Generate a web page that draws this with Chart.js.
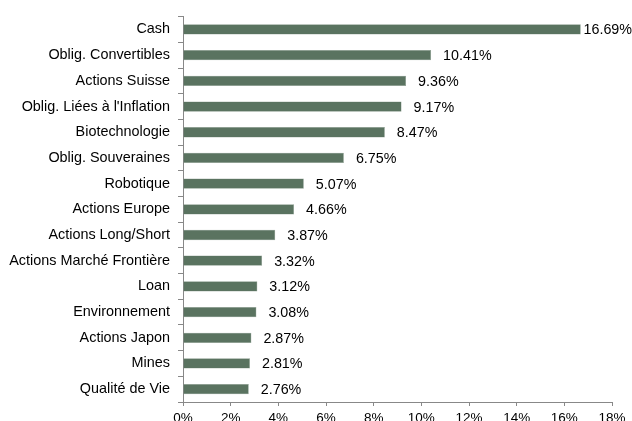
<!DOCTYPE html>
<html>
<head>
<meta charset="utf-8">
<script src="https://cdn.jsdelivr.net/npm/chart.js@4"></script>
<style>
  html, body { margin: 0; padding: 0; background: #fff; }
  canvas { display: block; }
</style>
</head>
<body>
<canvas id="chart" width="632" height="421"></canvas>
<script>
const categories = [
  "Cash", "Oblig. Convertibles", "Actions Suisse", "Oblig. Liées à l'Inflation",
  "Biotechnologie", "Oblig. Souveraines", "Robotique", "Actions Europe",
  "Actions Long/Short", "Actions Marché Frontière", "Loan", "Environnement",
  "Actions Japon", "Mines", "Qualité de Vie"
]
const weights = [16.69, 10.41, 9.36, 9.17, 8.47, 6.75, 5.07, 4.66, 3.87, 3.32, 3.12, 3.08, 2.87, 2.81, 2.76]
const xTicks = [0, 2, 4, 6, 8, 10, 12, 14, 16, 18]

const FONT = "'Liberation Sans', Arial, sans-serif"

// value labels to the right of each bar
const valueLabels = {
  id: "valueLabels",
  afterDatasetsDraw(chart) {
    const ctx = chart.ctx
    const meta = chart.getDatasetMeta(0)
    ctx.save()
    ctx.font = "14.3px " + FONT
    ctx.fillStyle = "#000"
    ctx.textBaseline = "middle"
    meta.data.forEach((bar, i) => {
      const txt = weights[i].toFixed(2) + "%"
      const w = ctx.measureText(txt).width
      let x = bar.x + 12
      if (x + w > chart.width) x = chart.width - w
      ctx.fillText(txt, x, bar.y + 1)
    })
    ctx.restore()
  }
}

new Chart(document.getElementById("chart"), {
  type: "bar",
  data: {
    labels: categories,
    datasets: [{
      data: weights,
      backgroundColor: "#5a7360",
      borderColor: "#8a9c8e",
      borderWidth: 0.5,
      categoryPercentage: 0.4,
      barPercentage: 1
    }]
  },
  options: {
    indexAxis: "y",
    responsive: false,
    animation: false,
    devicePixelRatio: 1,
    layout: { padding: { top: 14, right: 20, left: 0, bottom: 0 } },
    plugins: { legend: { display: false }, tooltip: { enabled: false } },
    scales: {
      x: {
        min: 0, max: 18,
        afterBuildTicks(axis) { axis.ticks = xTicks.map(v => ({ value: v })) },
        afterFit(axis) { axis.height = 19 },
        grid: { drawOnChartArea: false, tickLength: 4, color: "#888" },
        border: { color: "#888" },
        ticks: {
          padding: 4.5,
          maxRotation: 0,
          autoSkip: false,
          color: "#000",
          font: { family: FONT, size: 13.5 },
          callback: v => v + "%"
        }
      },
      y: {
        afterFit(axis) { axis.width = 183 },
        grid: { offset: true, drawOnChartArea: false, tickLength: 5, color: "#888" },
        border: { color: "#888" },
        ticks: {
          padding: 8,
          autoSkip: false,
          color: "#000",
          font: { family: FONT, size: 14.4 }
        }
      }
    }
  },
  plugins: [valueLabels]
})
</script>
</body>
</html>
